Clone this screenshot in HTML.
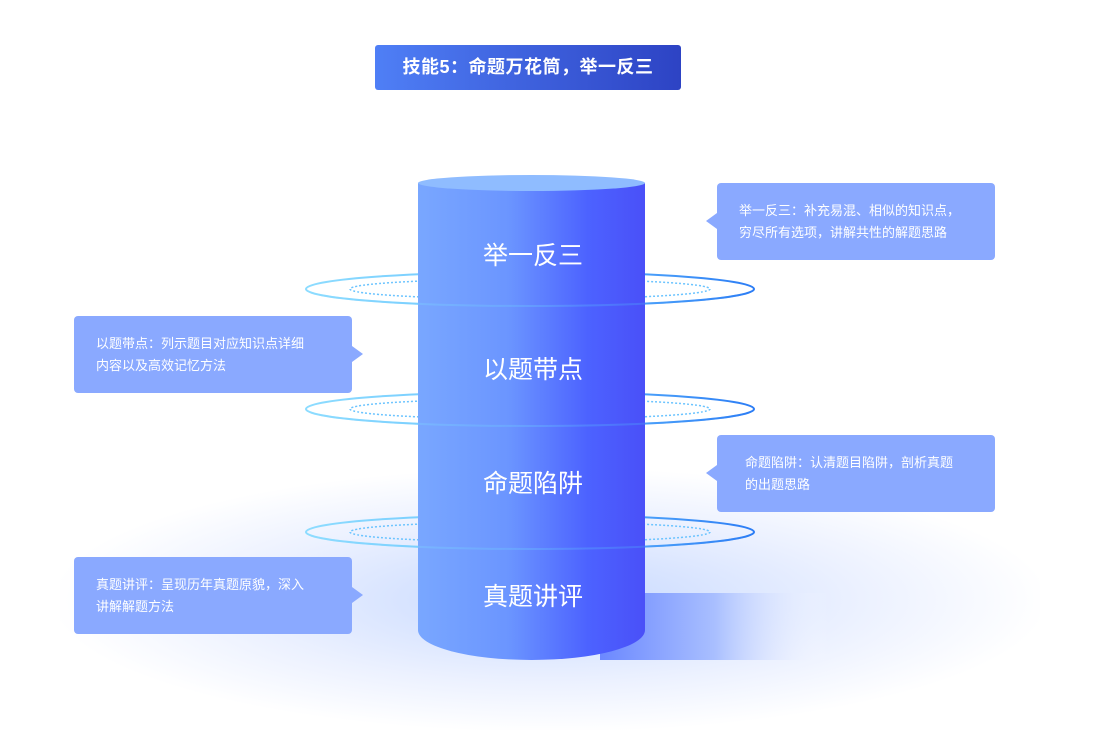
<!DOCTYPE html>
<html><head><meta charset="utf-8"><style>
body{margin:0;width:1110px;height:705px;background:#fff;overflow:hidden;font-family:"Liberation Sans","Noto Sans CJK SC",sans-serif;position:relative}
.glow{position:absolute;left:60px;top:470px;width:980px;height:260px;background:radial-gradient(ellipse at 50% 50%,rgba(160,190,255,.6),rgba(200,215,255,.35) 45%,rgba(255,255,255,0) 72%)}
.title{position:absolute;left:375px;top:45px;width:306px;height:45px;border-radius:3px;background:linear-gradient(90deg,#4f7ff6,#2d43c4);color:#fff;font-weight:bold;font-size:18px;letter-spacing:0.5px;line-height:45px;text-align:center}
.box{position:absolute;width:278px;height:77px;background:#8aa9ff;border-radius:4px;color:#fff;font-size:13px;line-height:22px;box-sizing:border-box;padding:17px 34px 0 22px}
.box.r:before{content:"";position:absolute;left:-11px;top:30px;border:8px solid transparent;border-right:11px solid #8aa9ff;border-left:0}
.box.l:after{content:"";position:absolute;right:-11px;top:30px;border:8px solid transparent;border-left:11px solid #8aa9ff;border-right:0}
.box.l{padding-right:46px}
svg{position:absolute;left:0;top:0}
</style></head><body>
<div class="glow"></div>
<div class="title">技能5：命题万花筒，举一反三</div>
<svg width="1110" height="705">
<defs>
<linearGradient id="cg" x1="0" x2="1"><stop offset="0" stop-color="#79a7ff"/><stop offset=".4" stop-color="#6b95ff"/><stop offset=".75" stop-color="#4c62ff"/><stop offset="1" stop-color="#4a50f8"/></linearGradient>
<linearGradient id="sh" x1="0" x2="1"><stop offset="0" stop-color="#6b88ff"/><stop offset=".5" stop-color="#a9bfff"/><stop offset="1" stop-color="#fff" stop-opacity="0"/></linearGradient>
<linearGradient id="rg" x1="0" x2="1"><stop offset="0" stop-color="#8ddcff"/><stop offset=".5" stop-color="#6ac4ff"/><stop offset="1" stop-color="#2c7df5"/></linearGradient>
</defs>
<rect x="600" y="593" width="230" height="67" fill="url(#sh)"/>
<g fill="none">
<g><ellipse cx="530" cy="289" rx="224" ry="17" stroke="url(#rg)" stroke-width="2"/><ellipse cx="530" cy="289" rx="180" ry="10" stroke="#6cc4ff" stroke-width="1.5" stroke-dasharray="2 2"/></g>
<g><ellipse cx="530" cy="409" rx="224" ry="17" stroke="url(#rg)" stroke-width="2"/><ellipse cx="530" cy="409" rx="180" ry="10" stroke="#6cc4ff" stroke-width="1.5" stroke-dasharray="2 2"/></g>
<g><ellipse cx="530" cy="532" rx="224" ry="17" stroke="url(#rg)" stroke-width="2"/><ellipse cx="530" cy="532" rx="180" ry="10" stroke="#6cc4ff" stroke-width="1.5" stroke-dasharray="2 2"/></g>
</g>
<path d="M418 183 L418 630 A113.5 30 0 0 0 645 630 L645 183 Z" fill="url(#cg)"/>
<ellipse cx="531.5" cy="183" rx="113.5" ry="8" fill="#8fbcff"/>
<g fill="none" opacity=".35">
<path d="M306 289 A224 17 0 0 0 754 289" stroke="url(#rg)" stroke-width="2"/>
<path d="M306 409 A224 17 0 0 0 754 409" stroke="url(#rg)" stroke-width="2"/>
<path d="M306 532 A224 17 0 0 0 754 532" stroke="url(#rg)" stroke-width="2"/>
</g>
<g fill="#fff" font-size="25" text-anchor="middle" font-family="Liberation Sans,Noto Sans CJK SC,sans-serif">
<text x="533" y="264">举一反三</text>
<text x="533" y="378">以题带点</text>
<text x="533" y="492">命题陷阱</text>
<text x="533" y="605">真题讲评</text>
</g>
</svg>
<div class="box r" style="left:717px;top:183px">举一反三：补充易混、相似的知识点，穷尽所有选项，讲解共性的解题思路</div>
<div class="box l" style="left:74px;top:316px">以题带点：列示题目对应知识点详细内容以及高效记忆方法</div>
<div class="box r" style="left:717px;top:435px;padding-left:28px;padding-right:36px">命题陷阱：认清题目陷阱，剖析真题的出题思路</div>
<div class="box l" style="left:74px;top:557px">真题讲评：呈现历年真题原貌，深入讲解解题方法</div>
</body></html>
